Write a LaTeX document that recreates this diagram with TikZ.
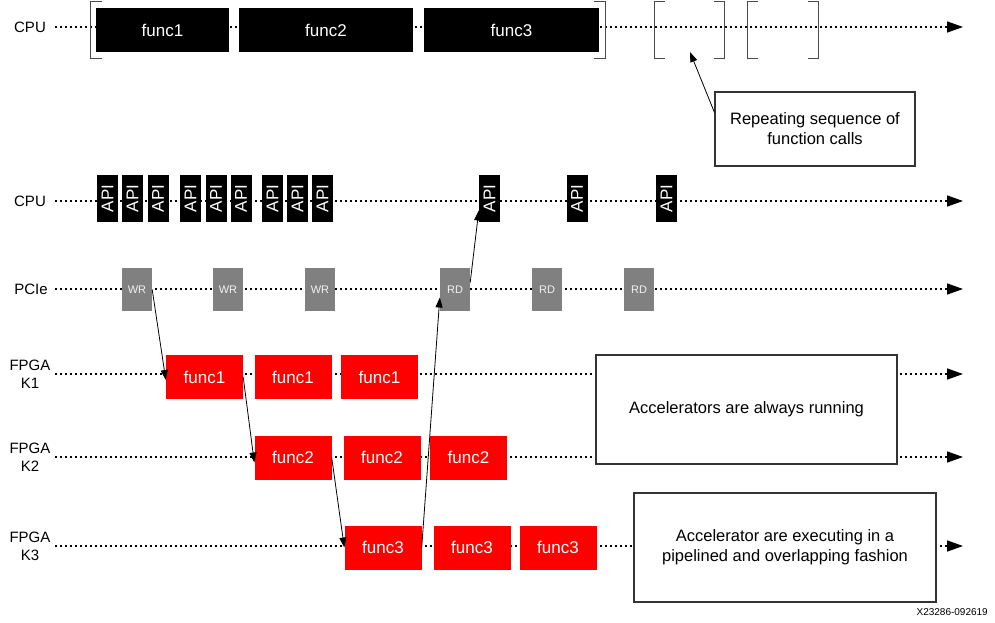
\documentclass[tikz,border=0pt]{standalone}
\usepackage{fontspec}
\setmainfont{Liberation Sans}
\usetikzlibrary{arrows.meta}
\definecolor{pcigray}{HTML}{808080}
\definecolor{brk}{HTML}{4A4A4A}
\definecolor{notebrd}{HTML}{333333}
\begin{document}
\begin{tikzpicture}[x=1pt,y=-1pt,
  lbl/.style={font=\fontsize{15}{18}\selectfont, align=center, inner sep=0},
  timeline/.style={line width=1.6pt, dash pattern=on 1.6pt off 3.4pt, -{Triangle[length=16pt,width=11pt]}},
  cpubox/.style={fill=black, text=white, inner sep=0, minimum height=44, font=\fontsize{17}{20}\selectfont},
  apibox/.style={fill=black, text=white, inner sep=0, minimum width=21, minimum height=47},
  apitxt/.style={text=white, inner sep=0, rotate=90, font=\fontsize{17}{20}\selectfont},
  pcibox/.style={fill=pcigray, text=white!90!gray, inner sep=0, minimum width=30, minimum height=43, font=\fontsize{11}{13}\selectfont},
  fpgabox/.style={fill=red, text=white, inner sep=0, minimum width=77, minimum height=44, font=\fontsize{17}{20}\selectfont},
  notebox/.style={draw=notebrd, line width=1.2pt, fill=white, align=center, inner sep=0, font=\fontsize{16.5}{20}\selectfont},
  bracket/.style={draw=brk, line width=1.2pt},
  link/.style={line width=0.8pt, -{Triangle[length=10pt,width=7pt]}}
]
\useasboundingbox (0,0) rectangle (995,623);

% ---------- labels ----------
\node[lbl] (lcpu1) at (30,27) {CPU};
\node[lbl] (lcpu2) at (30,201) {CPU};
\node[lbl] (lpcie) at (31,289) {PCIe};
\node[lbl] (lk1) at (30,374) {FPGA\\K1};
\node[lbl] (lk2) at (30,457) {FPGA\\K2};
\node[lbl] (lk3) at (30,546) {FPGA\\K3};

% ---------- timelines ----------
\coordinate (t1s) at (55,27);  \coordinate (t1e) at (963,27);
\coordinate (t2s) at (55,201); \coordinate (t2e) at (963,201);
\coordinate (t3s) at (55,289); \coordinate (t3e) at (963,289);
\coordinate (t4s) at (55,374); \coordinate (t4e) at (963,374);
\coordinate (t5s) at (55,457); \coordinate (t5e) at (963,457);
\coordinate (t6s) at (55,546); \coordinate (t6e) at (963,546);
\foreach \i in {1,...,6} \draw[timeline] (t\i s) -- (t\i e);

% ---------- top CPU row ----------
\node[cpubox, minimum width=133] (tf1) at (162.5,30) {func1};
\node[cpubox, minimum width=174] (tf2) at (326,30) {func2};
\node[cpubox, minimum width=175] (tf3) at (511.5,30) {func3};

% brackets
\node[inner sep=0, minimum width=514, minimum height=56] (seq0) at (348,30) {};
\draw[bracket] ([xshift=11pt]seq0.north west) -- (seq0.north west) -- (seq0.south west) -- ([xshift=11pt]seq0.south west);
\draw[bracket] ([xshift=-11pt]seq0.north east) -- (seq0.north east) -- (seq0.south east) -- ([xshift=-11pt]seq0.south east);
\node[inner sep=0, minimum width=69, minimum height=56] (seq1) at (689.5,30) {};
\draw[bracket] ([xshift=10pt]seq1.north west) -- (seq1.north west) -- (seq1.south west) -- ([xshift=10pt]seq1.south west);
\draw[bracket] ([xshift=-10pt]seq1.north east) -- (seq1.north east) -- (seq1.south east) -- ([xshift=-10pt]seq1.south east);
\node[inner sep=0, minimum width=70, minimum height=56] (seq2) at (783,30) {};
\draw[bracket] ([xshift=10pt]seq2.north west) -- (seq2.north west) -- (seq2.south west) -- ([xshift=10pt]seq2.south west);
\draw[bracket] ([xshift=-10pt]seq2.north east) -- (seq2.north east) -- (seq2.south east) -- ([xshift=-10pt]seq2.south east);

\node[notebox, minimum width=200, minimum height=74] (note1) at (815,129) {Repeating sequence of\\function calls};
\coordinate (reptip) at (690,52);
\draw[link] ([yshift=-21pt]note1.north west) -- (reptip);

% ---------- API row ----------
\foreach \n/\x in {a1/107.5, a2/132.5, a3/158, a4/190.5, a5/216, a6/241, a7/272.5, a8/297.5, a9/322.5, a10/489.5, a11/577, a12/666.5}{
  \node[apibox] (\n) at (\x,198.5) {};
  \node[apitxt] at (\n) {API};
}

% ---------- PCIe row ----------
\node[pcibox] (wr1) at (137,289.5) {WR};
\node[pcibox] (wr2) at (228,289.5) {WR};
\node[pcibox] (wr3) at (320,289.5) {WR};
\node[pcibox] (rd1) at (455,289.5) {RD};
\node[pcibox] (rd2) at (547,289.5) {RD};
\node[pcibox] (rd3) at (639,289.5) {RD};

% ---------- FPGA rows ----------
\node[fpgabox] (k1a) at (204.5,377) {func1};
\node[fpgabox] (k1b) at (293,377) {func1};
\node[fpgabox] (k1c) at (379.5,377) {func1};
\node[fpgabox] (k2a) at (293,457.5) {func2};
\node[fpgabox] (k2b) at (382,457.5) {func2};
\node[fpgabox] (k2c) at (468.5,457.5) {func2};
\node[fpgabox] (k3a) at (383,547.5) {func3};
\node[fpgabox] (k3b) at (472,547.5) {func3};
\node[fpgabox] (k3c) at (558,547.5) {func3};

% ---------- notes ----------
\node[notebox, minimum width=301, minimum height=109] (note2) at (746.5,409.5) {Accelerators are always running};
\node[notebox, minimum width=302, minimum height=109] (note3) at (785,547.5) {Accelerator are executing in a\\pipelined and overlapping fashion};

% ---------- connectors ----------
\draw[link] (wr1.east) -- ([yshift=-3pt]k1a.west);
\draw[link] (k1a.east) -- ([yshift=-5pt]k2a.west);
\draw[link] (k2a.east) -- (k3a.west);
\draw[link] (k3a.east) -- ([yshift=-8pt]rd1.west);
\draw[link] ([yshift=7pt]rd1.east) -- ([yshift=-12pt]a10.west);

% ---------- footer ----------
\node[inner sep=0, anchor=east, font=\fontsize{10}{12}\selectfont] (foot) at (988,612) {X23286-092619};
\end{tikzpicture}
\end{document}
